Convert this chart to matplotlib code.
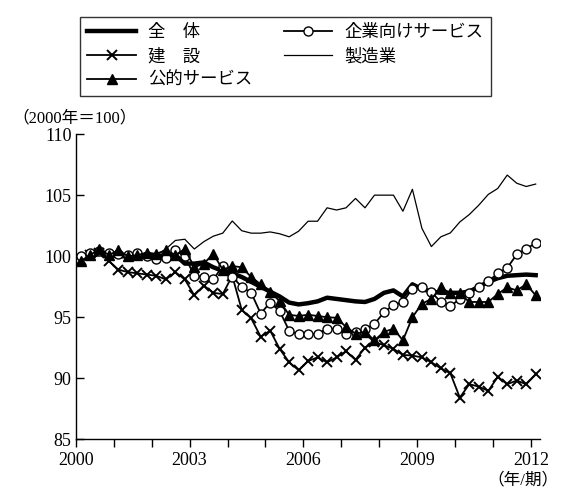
import numpy as np
import matplotlib
matplotlib.use("Agg")
import matplotlib.pyplot as plt

plt.rcParams['font.family'] = ['Liberation Serif', 'Noto Sans CJK JP', 'DejaVu Sans']

# quarterly data, 2000Q1 - 2012Q1
quarters = 2000.125 + 0.25 * np.arange(49)

total = [99.8, 100.0, 100.2, 100.1, 100.0, 100.0, 99.9, 100.0, 100.0, 100.1,
         100.1, 99.4, 99.4, 99.5, 99.1, 98.8, 98.6, 98.3, 97.9, 97.5,
         97.1, 96.7, 96.2, 96.05, 96.15, 96.3, 96.6, 96.5, 96.4, 96.3,
         96.25, 96.5, 97.0, 97.2, 96.7, 97.7, 97.3, 97.1, 97.0, 97.0,
         97.0, 97.1, 97.5, 97.9, 98.2, 98.4, 98.45, 98.5, 98.45]

construction = [99.7, 100.1, 100.3, 99.6, 98.9, 98.7, 98.6, 98.5, 98.4, 98.1,
                98.7, 98.1, 96.8, 97.6, 97.0, 96.9, 98.4, 95.6, 94.9, 93.4,
                93.9, 92.4, 91.3, 90.65, 91.4, 91.7, 91.3, 91.7, 92.2, 91.5,
                92.5, 92.95, 92.7, 92.4, 91.9, 91.85, 91.7, 91.3, 90.8, 90.4,
                88.4, 89.5, 89.3, 88.95, 90.1, 89.5, 89.8, 89.5, 90.3]

public_services = [99.6, 100.1, 100.6, 100.1, 100.5, 100.0, 100.1, 100.3, 100.2, 100.5,
                   100.1, 100.6, 99.1, 99.4, 100.2, 98.9, 99.2, 99.1, 98.3, 97.7,
                   97.1, 96.3, 95.2, 95.1, 95.2, 95.1, 95.0, 94.95, 94.2, 93.65,
                   93.8, 93.1, 93.8, 94.05, 93.1, 95.0, 96.1, 96.5, 97.45, 96.95,
                   96.95, 96.25, 96.25, 96.25, 96.9, 97.45, 97.2, 97.7, 96.8]

business_services = [100.0, 100.3, 100.4, 100.3, 100.2, 100.1, 100.3, 100.0, 99.8, 99.9,
                     100.5, 100.0, 98.4, 98.3, 98.1, 99.2, 98.3, 97.5, 97.0, 95.3,
                     96.2, 95.5, 93.9, 93.6, 93.6, 93.65, 94.05, 94.05, 93.65, 93.75,
                     94.0, 94.45, 95.4, 96.0, 96.25, 97.35, 97.45, 97.05, 96.25, 95.9,
                     96.5, 96.95, 97.45, 97.95, 98.6, 99.05, 100.15, 100.6, 101.1]

manufacturing = [99.9, 100.2, 100.1, 100.3, 100.0, 100.1, 100.0, 99.9, 100.1, 100.6,
                 101.3, 101.4, 100.6, 101.2, 101.65, 101.9, 102.9, 102.1, 101.9, 101.9,
                 102.0, 101.85, 101.6, 102.06, 102.88, 102.88, 103.98, 103.8, 103.98, 104.75,
                 103.98, 105.02, 105.02, 105.02, 103.7, 105.5, 102.3, 100.8, 101.6, 101.92,
                 102.82, 103.43, 104.2, 105.08, 105.57, 106.67, 106.0, 105.73, 105.93]

year_ticks = list(range(2000, 2013))
year_labels = [str(y) if (y - 2000) % 3 == 0 else '' for y in year_ticks]

fig = plt.figure(figsize=(5.63, 4.88), dpi=100)
ax = fig.add_axes([0.1346, 0.1004, 0.8253, 0.624])

ax.plot(quarters, total, color='black', lw=3.2, solid_joinstyle='round', zorder=2, label='全　体')
ax.plot(quarters, manufacturing, color='black', lw=0.9, zorder=3, label='製造業')
ax.plot(quarters, construction, color='black', lw=1.3, marker='x', ms=7, mew=1.4,
        zorder=4, label='建　設')
ax.plot(quarters, business_services, color='black', lw=1.3, marker='o', ms=6.5,
        mfc='white', mec='black', mew=1.0, zorder=5, label='企業向けサービス')
ax.plot(quarters, public_services, color='black', lw=1.3, marker='^', ms=7.5,
        zorder=6, label='公的サービス')

ax.set_xlim(2000, 2012.25)
ax.set_ylim(85, 110)
ax.set_xticks(year_ticks)
ax.set_xticklabels(year_labels)
ax.set_yticks([85, 90, 95, 100, 105, 110])

ax.spines['top'].set_visible(False)
ax.spines['right'].set_visible(False)
for s in ['left', 'bottom']:
    ax.spines[s].set_linewidth(1.0)
ax.tick_params(axis='x', direction='out', length=6, width=1.0, labelsize=13, pad=3)
ax.tick_params(axis='y', direction='in', length=6, width=1.0, labelsize=13, pad=3)

fig.text(0.022, 0.758, '（2000年＝100）', fontsize=12, ha='left', va='center')
fig.text(0.992, 0.016, '（年/期）', fontsize=12, ha='right', va='center')

handles, labels = ax.get_legend_handles_labels()
order = ['全　体', '建　設', '公的サービス', '企業向けサービス', '製造業']
hmap = dict(zip(labels, handles))
leg = fig.legend([hmap[k] for k in order], order, loc='upper center',
                 bbox_to_anchor=(0.507, 0.982), ncol=2, fontsize=12.5,
                 frameon=True, fancybox=False, edgecolor='black',
                 handlelength=2.8, handletextpad=0.7, columnspacing=1.8,
                 labelspacing=0.42, borderpad=0.45)
leg.get_frame().set_linewidth(1.0)

fig.savefig('out.png', dpi=100)
